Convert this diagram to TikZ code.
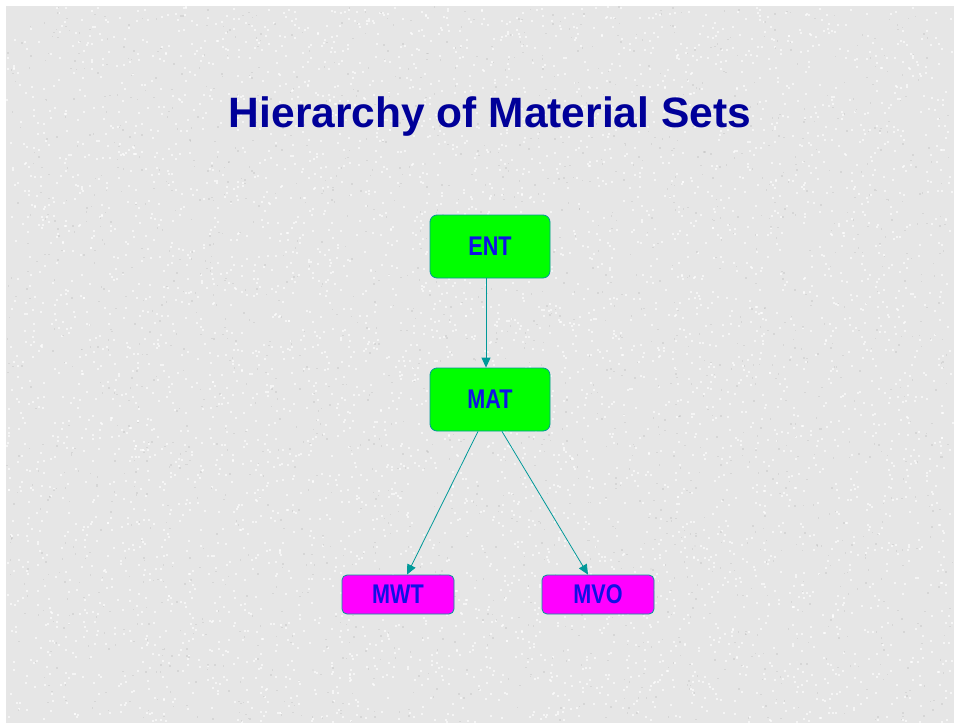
\documentclass[tikz,border=0pt]{standalone}
\usepackage{fontspec}
\setmainfont{Liberation Sans}
\usetikzlibrary{arrows.meta}
\definecolor{linkteal}{RGB}{0,153,153}
\definecolor{titleblue}{RGB}{0,0,153}
\definecolor{labelblue}{RGB}{16,16,230}
\definecolor{boxgreen}{RGB}{0,255,0}
\definecolor{boxmagenta}{RGB}{255,0,255}
\definecolor{paper}{RGB}{230,230,230}
\tikzset{
  setbox/.style={draw=linkteal, line width=0.8pt, text=labelblue,
    font=\fontsize{27}{27}\selectfont\bfseries, inner sep=0pt},
  topbox/.style={setbox, fill=boxgreen, rounded corners=7pt,
    minimum width=120pt, minimum height=63pt},
  leafbox/.style={setbox, fill=boxmagenta, rounded corners=5pt,
    minimum width=112pt, minimum height=39pt},
  link/.style={draw=linkteal, line width=0.8pt,
    -{Triangle[length=10pt,width=9pt]}},
  speck/.style={fill=white, opacity=0.6},
  speckdark/.style={fill=black!30, opacity=0.3}
}
\newcommand{\lbl}[1]{\scalebox{0.8}[1]{#1}}
\begin{document}
\begin{tikzpicture}[x=1pt,y=-1pt]
  % page and textured backdrop
  \fill[white] (0,0) rectangle (954,723);
  \useasboundingbox (0,0) rectangle (954,723);
  \fill[paper] (6,6) rectangle (954,723);
  \pgfmathsetseed{7}
  \foreach \i in {1,...,5000}{
    \pgfmathsetmacro{\px}{6+946*rnd}
    \pgfmathsetmacro{\py}{6+715*rnd}
    \fill[speck] (\px,\py) rectangle ++(2,2);
  }
  \foreach \i in {1,...,2000}{
    \pgfmathsetmacro{\px}{6+946*rnd}
    \pgfmathsetmacro{\py}{6+715*rnd}
    \fill[speckdark] (\px,\py) rectangle ++(1.5,1.5);
  }

  % title
  \node[font=\fontsize{42.5}{42.5}\selectfont\bfseries, text=titleblue]
    (title) at (490,117) {Hierarchy of Material Sets};

  % hierarchy nodes
  \node[topbox]  (ENT) at (490,246.5) {\lbl{ENT}};
  \node[topbox]  (MAT) at (490,399.5) {\lbl{MAT}};
  \node[leafbox] (MWT) at (398,594.5) {\lbl{MWT}};
  \node[leafbox] (MVO) at (598,594.5) {\lbl{MVO}};

  % connectors
  \draw[link] ([xshift=-4pt]ENT.south) -- ([xshift=-4pt]MAT.north);
  \draw[link] ([xshift=-12pt]MAT.south) -- ([xshift=9pt]MWT.north);
  \draw[link] ([xshift=12pt]MAT.south) -- ([xshift=-10pt]MVO.north);
\end{tikzpicture}
\end{document}
